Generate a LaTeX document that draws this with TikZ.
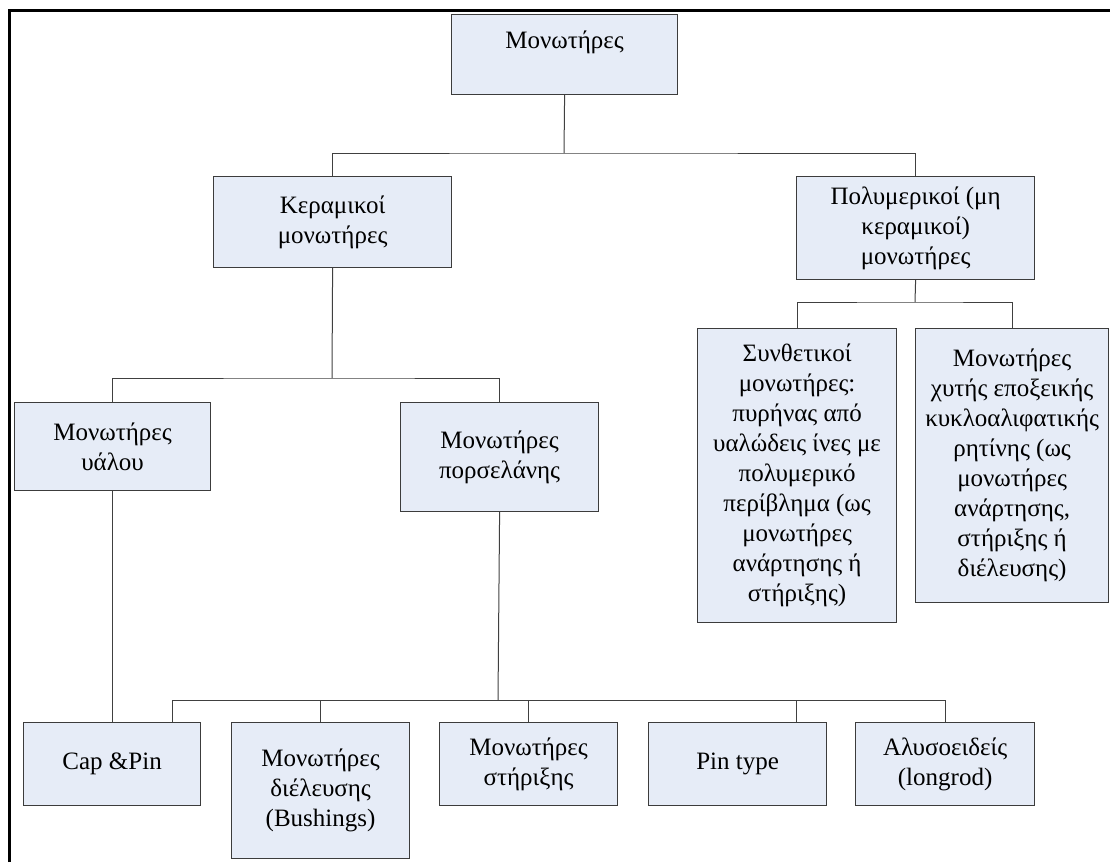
\documentclass[tikz,border=0pt]{standalone}
\usepackage{fontspec}
\setmainfont{Liberation Serif}
\usepackage{tikz}
\usetikzlibrary{positioning}

\definecolor{boxfill}{RGB}{230,236,247}
\definecolor{boxline}{RGB}{60,60,60}

\begin{document}
\begin{tikzpicture}[x=1pt, y=-1pt,
    box/.style={draw=boxline, fill=boxfill, line width=1.2pt, anchor=north west,
      inner sep=0pt, align=center, font=\fontsize{25}{30}\selectfont},
    link/.style={draw=black!75, line width=1pt}]
        \useasboundingbox (0,0) rectangle (1110,862);

        % Outer frame
        \draw[line width=3pt] (9,862) -- (9,10) -- (1110,10);

        % Top level
        \node[box, minimum width=226pt, minimum height=80pt] (root) at (451,14) {Μονωτήρες\\\mbox{}};

        % Second level
        \node[box, minimum width=238pt, minimum height=91pt] (keram) at (213,176) {Κεραμικοί\\μονωτήρες};
        \node[box, minimum width=238pt, minimum height=103pt] (polym) at (796,176) {Πολυμερικοί (μη\\κεραμικοί)\\μονωτήρες};

        % Polymer insulators
        \node[box, minimum width=199pt, minimum height=294pt] (synth) at (697,328)
            {Συνθετικοί\\μονωτήρες:\\πυρήνας από\\υαλώδεις ίνες με\\πολυμερικό\\περίβλημα (ως\\μονωτήρες\\ανάρτησης ή\\στήριξης)};
        \node[box, minimum width=193pt, minimum height=274pt] (epoxy) at (915,328)
            {Μονωτήρες\\χυτής εποξεικής\\κυκλοαλιφατικής\\ρητίνης (ως\\μονωτήρες\\ανάρτησης,\\στήριξης ή\\διέλευσης)};

        % Ceramic insulators
        \node[box, minimum width=196pt, minimum height=88pt] (glass) at (14,402) {Μονωτήρες\\υάλου};
        \node[box, minimum width=198pt, minimum height=109pt] (porcel) at (400,402) {Μονωτήρες\\πορσελάνης};

        % Bottom row
        \node[box, minimum width=177pt, minimum height=83pt] (cappin) at (23,722) {Cap \&Pin};
        \node[box, minimum width=178pt, minimum height=136pt] (bushing) at (231,722) {Μονωτήρες\\διέλευσης\\(Bushings)};
        \node[box, minimum width=178pt, minimum height=83pt] (support) at (439,722) {Μονωτήρες\\στήριξης};
        \node[box, minimum width=178pt, minimum height=83pt] (pintype) at (648,722) {Pin type};
        \node[box, minimum width=179pt, minimum height=83pt] (longrod) at (855,722) {Αλυσοειδείς\\(longrod)};

        % Branch points
        \coordinate (b1) at (564,153);
        \coordinate (b2) at (915,302);
        \coordinate (b3) at (332,378);
        \coordinate (b4) at (498,700);
        \coordinate (capin) at (172,722);
        \coordinate (pinin) at (796,722);

        % Connectors
        \draw[link] (root.south) -- (b1);
        \draw[link] (keram.north) |- (b1) -| (polym.north);
        \draw[link] (polym.south) -- (b2);
        \draw[link] (synth.north) |- (b2) -| (epoxy.north);
        \draw[link] (keram.south) -- (b3);
        \draw[link] (glass.north) |- (b3) -| (porcel.north);
        \draw[link] (glass.south) -- (glass.south |- cappin.north);
        \draw[link] (porcel.south) -- (b4);
        \draw[link] (capin) |- (b4) -| (longrod.north);
        \draw[link] (bushing.north) -- (bushing.north |- b4);
        \draw[link] (support.north) -- (support.north |- b4);
        \draw[link] (pinin) -- (pinin |- b4);
    \end{tikzpicture}
\end{document}
